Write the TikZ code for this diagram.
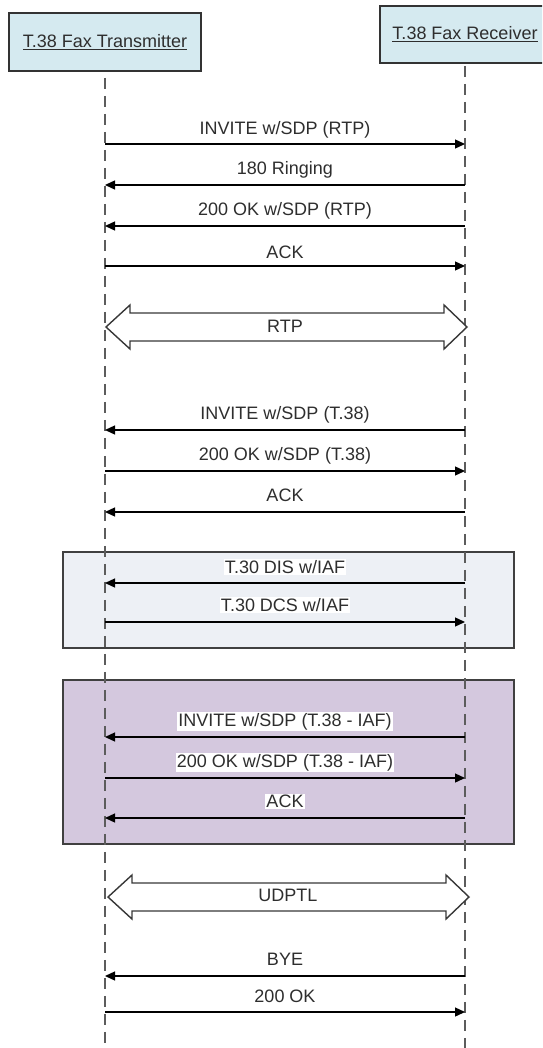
\documentclass[tikz,border=0pt]{standalone}
\usepackage{fontspec}
\setmainfont{Liberation Sans}
\usetikzlibrary{arrows.meta,calc}
\definecolor{actorfill}{HTML}{D5EAF0}
\definecolor{boxA}{HTML}{EDF0F5}
\definecolor{boxB}{HTML}{D4C8DE}
\definecolor{txt}{HTML}{2E2E2E}
\definecolor{lline}{HTML}{5C5C5C}
\newcommand{\lblfont}{\fontsize{18}{20}\selectfont}
\tikzset{
  actor/.style={draw=black!80, line width=1.6pt, fill=actorfill, text=txt, font=\lblfont, inner sep=0pt},
  lifeline/.style={draw=lline, line width=2.6pt, dash pattern=on 11pt off 7pt},
  msg/.style={draw=black, line width=1.3pt, -{Triangle[length=10pt,width=9pt]}},
  msglabel/.style={fill=white, inner sep=1pt, text=txt, font=\lblfont, anchor=base, yshift=-6.4pt},
  grp/.style={draw=black!75, line width=1.5pt, inner sep=0pt},
  blockarrow/.style={draw=black!78, line width=1.4pt, fill=white, line join=miter},
  flowlabel/.style={text=txt, font=\lblfont, inner sep=0pt},
}
\newcommand{\msgLR}[4]{%
  \coordinate (#1L) at (105,#2);
  \coordinate (#1R) at (465,#2);
  \draw[msg] (#1L) -- (#1R);
  \node[msglabel] (#1T) at (285,#3) {#4};
}
\newcommand{\msgRL}[4]{%
  \coordinate (#1L) at (105,#2);
  \coordinate (#1R) at (465,#2);
  \draw[msg] (#1R) -- (#1L);
  \node[msglabel] (#1T) at (285,#3) {#4};
}
\newcommand{\flowarrow}[1]{%
  \draw[blockarrow] (#1L) -- ($(#1L)+(24,-22)$) -- ($(#1L)+(24,-14)$) -- ($(#1R)+(-23,-14)$) -- ($(#1R)+(-23,-22)$) -- (#1R)
     -- ($(#1R)+(-23,22)$) -- ($(#1R)+(-23,14)$) -- ($(#1L)+(24,14)$) -- ($(#1L)+(24,22)$) -- cycle;
}
\begin{document}
\begin{tikzpicture}[x=1pt,y=-1pt]
\useasboundingbox (0,0) rectangle (542,1048);
\clip (0,0) rectangle (542,1048);
\fill[white] (0,0) rectangle (542,1048);

% group boxes
\node[grp, fill=boxA, minimum width=451pt, minimum height=96pt] (grpA) at (288.5,600) {};
\node[grp, fill=boxB, minimum width=451pt, minimum height=164pt] (grpB) at (288.5,762) {};

% actors
\node[actor, minimum width=192pt, minimum height=58pt] (tx) at (105,42) {\underline{T.38 Fax Transmitter}};
\node[actor, minimum width=170pt, minimum height=57pt] (rx) at (465,34.5) {\underline{T.38 Fax Receiver}};

% lifelines
\coordinate (txEnd) at (105,1052);
\coordinate (rxEnd) at (465,1052);
\draw[lifeline] ([yshift=-6pt]tx.south) -- (txEnd);
\draw[lifeline] ([yshift=-2pt]rx.south) -- (rxEnd);

% messages
\msgLR{m1}{144}{128}{INVITE w/SDP (RTP)}
\msgRL{m2}{185}{168}{180 Ringing}
\msgRL{m3}{226}{209}{200 OK w/SDP (RTP)}
\msgLR{m4}{266}{252}{ACK}

\coordinate (rtpL) at (106,327);
\coordinate (rtpR) at (467,327);
\flowarrow{rtp}
\node[flowlabel] (rtpT) at (285,326) {RTP};

\msgRL{m5}{430}{413}{INVITE w/SDP (T.38)}
\msgLR{m6}{471}{454}{200 OK w/SDP (T.38)}
\msgRL{m7}{512}{495}{ACK}

\msgRL{m8}{583}{567}{T.30 DIS w/IAF}
\msgLR{m9}{622}{605}{T.30 DCS w/IAF}

\msgRL{m10}{737}{720}{INVITE w/SDP (T.38 - IAF)}
\msgLR{m11}{778}{761}{200 OK w/SDP (T.38 - IAF)}
\msgRL{m12}{818}{801}{ACK}

\coordinate (udpL) at (108,897);
\coordinate (udpR) at (469,897);
\flowarrow{udp}
\node[flowlabel] (udpT) at (288,895) {UDPTL};

\msgRL{m13}{976}{959}{BYE}
\msgLR{m14}{1012}{996}{200 OK}
\end{tikzpicture}
\end{document}
